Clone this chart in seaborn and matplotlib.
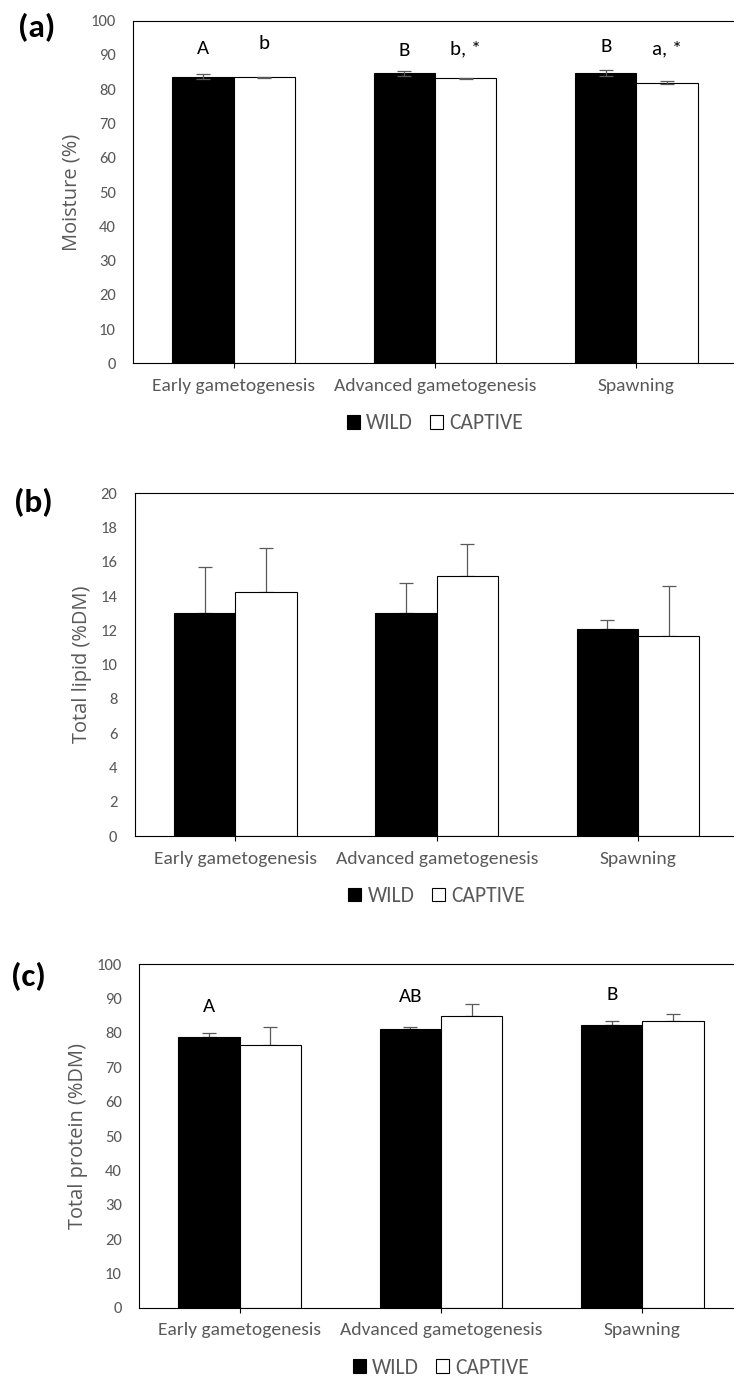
import numpy as np
import pandas as pd
import matplotlib
matplotlib.use("Agg")
import matplotlib.pyplot as plt
import seaborn as sns
from matplotlib import font_manager as fm

# ---------------- data ----------------
stages = ["Early gametogenesis", "Advanced gametogenesis", "Spawning"]
groups = ["WILD", "CAPTIVE"]

moisture_wild = [83.7, 84.7, 84.7]
moisture_wild_err = [0.7, 0.7, 0.8]
moisture_captive = [83.5, 83.2, 81.9]
moisture_captive_err = [0.15, 0.2, 0.45]
moisture_letters_wild = ["A", "B", "B"]
moisture_letters_captive = ["b", "b, *", "a, *"]
moisture_letter_y_wild = [90.3, 89.6, 91.0]
moisture_letter_y_captive = [91.8, 90.3, 90.3]

lipid_wild = [13.0, 13.0, 12.1]
lipid_wild_err = [2.7, 1.75, 0.5]
lipid_captive = [14.25, 15.2, 11.7]
lipid_captive_err = [2.55, 1.85, 2.9]

protein_wild = [78.9, 81.15, 82.4]
protein_wild_err = [1.2, 0.7, 1.2]
protein_captive = [76.5, 84.9, 83.6]
protein_captive_err = [5.3, 3.5, 1.8]
protein_letters_wild = ["A", "AB", "B"]
protein_letter_y_wild = [86.2, 89.1, 89.6]

# ---------------- fonts ----------------
def has_font(name):
    try:
        fm.findfont(fm.FontProperties(family=name), fallback_to_default=False)
        return True
    except Exception:
        return False

if has_font("Carlito"):
    BASE, K = "Carlito", 1.0
elif has_font("Liberation Sans Narrow"):
    BASE, K = "Liberation Sans Narrow", 0.93
else:
    BASE, K = "Liberation Sans", 0.86
FAM = [BASE, "DejaVu Sans"]
LABEL_FAM = ["Open Sans", "DejaVu Sans"]
GRAY = "#595959"

sns.set_theme(style="white")
plt.rcParams["font.family"] = FAM

W, H = 734, 1381
fig = plt.figure(figsize=(W / 100, H / 100), dpi=100)

def make_axes(left_px, top_px, bottom_px, width_px=604):
    return fig.add_axes([left_px / W, 1 - bottom_px / H, width_px / W, (bottom_px - top_px) / H])

def panel(ax, wild, wild_err, captive, captive_err, ymax, ystep, ylabel,
          ylabel_x, symmetric, letters=None):
    df = pd.DataFrame({
        "stage": stages * 2,
        "group": [groups[0]] * len(stages) + [groups[1]] * len(stages),
        "value": list(wild) + list(captive),
    })
    sns.barplot(data=df, x="stage", y="value", hue="group", order=stages,
                hue_order=groups, palette={"WILD": "black", "CAPTIVE": "white"},
                edgecolor="black", linewidth=0.8, width=0.608, saturation=1,
                errorbar=None, ax=ax, legend=True)
    errs = [wild_err, captive_err]
    for ci, cont in enumerate(ax.containers[:2]):
        xs = [p.get_x() + p.get_width() / 2 for p in cont.patches]
        ys = [p.get_height() for p in cont.patches]
        e = np.asarray(errs[ci])
        lo = e if symmetric else np.zeros_like(e)
        ax.errorbar(xs, ys, yerr=[lo, e], fmt="none", ecolor=GRAY,
                    elinewidth=0.9, capsize=5, capthick=0.9,
                    zorder=3 if symmetric else 0.5)
        if letters is not None and letters[ci] is not None:
            labs, ly = letters[ci]
            for x, lab, yv in zip(xs, labs, ly):
                ax.text(x, yv, lab, ha="center", va="baseline",
                        fontsize=15 * K, color="black", family=FAM)
    ax.set_ylim(0, ymax)
    ax.set_xlim(-0.5, 2.5)
    ax.set_yticks(np.arange(0, ymax + ystep / 2, ystep))
    ax.set_yticklabels([f"{int(v)}" for v in np.arange(0, ymax + ystep / 2, ystep)])
    ax.tick_params(axis="y", left=False, length=0, pad=12.5,
                   labelsize=12 * K, labelcolor=GRAY)
    ax.tick_params(axis="x", bottom=True, length=3.6, width=0.8, color="black",
                   direction="out", pad=7, labelsize=14 * K, labelcolor=GRAY)
    for t in ax.get_xticklabels() + ax.get_yticklabels():
        t.set_family(FAM)
    ax.set_xlabel("")
    ax.set_ylabel(ylabel, fontsize=14.4, color=GRAY, family=LABEL_FAM, va="center")
    ax.yaxis.set_label_coords(ylabel_x, 0.5)
    for s in ["left", "top", "bottom", "right"]:
        ax.spines[s].set_visible(True)
        ax.spines[s].set_color("black")
        ax.spines[s].set_linewidth(0.8)
    leg = ax.get_legend()
    handles = list(leg.legend_handles)
    labels = [t.get_text() for t in leg.texts]
    for h in handles:
        h.set_edgecolor("black")
        h.set_linewidth(0.8)
    ax.legend(handles, labels, loc="center", bbox_to_anchor=(0.5, -0.175),
              ncol=2, frameon=False, handlelength=0.6, handleheight=0.6,
              handletextpad=0.3, columnspacing=0.8, borderaxespad=0,
              prop={"family": FAM, "size": 15.5 * K}, labelcolor=GRAY)

ax_a = make_axes(133, 20.7, 363.3)
panel(ax_a, moisture_wild, moisture_wild_err, moisture_captive, moisture_captive_err,
      100, 10, "Moisture (%)", (71.7 - 133) / 604, True,
      letters=[(moisture_letters_wild, moisture_letter_y_wild),
               (moisture_letters_captive, moisture_letter_y_captive)])

ax_b = make_axes(134.7, 493.3, 836)
panel(ax_b, lipid_wild, lipid_wild_err, lipid_captive, lipid_captive_err,
      20, 2, "Total lipid (%DM)", (81.7 - 134.7) / 604, False)

ax_c = make_axes(139, 964.3, 1307.7)
panel(ax_c, protein_wild, protein_wild_err, protein_captive, protein_captive_err,
      100, 10, "Total protein (%DM)", (77.5 - 139) / 604, False,
      letters=[(protein_letters_wild, protein_letter_y_wild), None])

for lab, (px, py) in zip(["(a)", "(b)", "(c)"], [(37, 28), (33, 503), (28, 977)]):
    fig.text(px / W, 1 - py / H, lab, ha="center", va="center",
             fontsize=24 * K, fontweight="bold", color="black", family=FAM)

fig.savefig("out.png", dpi=100)
